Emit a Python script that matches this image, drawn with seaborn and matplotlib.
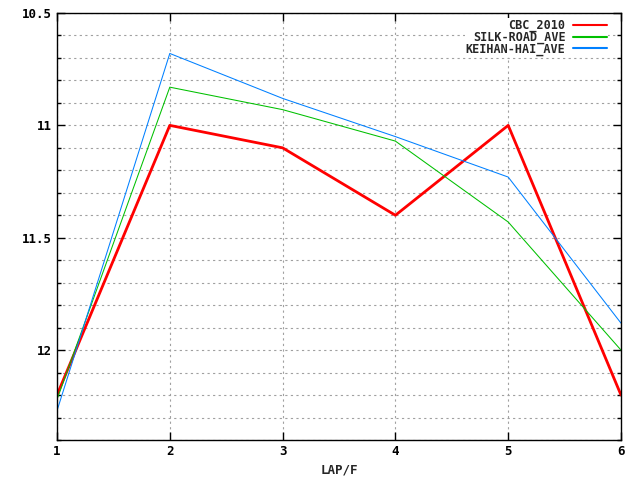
import matplotlib
matplotlib.use("Agg")
import matplotlib.pyplot as plt
import seaborn as sns
import pandas as pd
from matplotlib.ticker import MultipleLocator, FormatStrFormatter

laps = [1, 2, 3, 4, 5, 6]
cbc_2010 = [12.20, 11.00, 11.10, 11.40, 11.00, 12.20]
silk_road_ave = [12.22, 10.83, 10.93, 11.07, 11.43, 12.00]
keihan_hai_ave = [12.27, 10.68, 10.88, 11.05, 11.23, 11.88]
series_names = ["CBC_2010", "SILK-ROAD_AVE", "KEIHAN-HAI_AVE"]

df = pd.concat([
    pd.DataFrame({"LAP/F": laps, "time": cbc_2010, "series": series_names[0]}),
    pd.DataFrame({"LAP/F": laps, "time": silk_road_ave, "series": series_names[1]}),
    pd.DataFrame({"LAP/F": laps, "time": keihan_hai_ave, "series": series_names[2]}),
])

sns.set_style("white")
plt.rcParams['font.family'] = ['DejaVu Sans Mono']
plt.rcParams['font.weight'] = 'bold'

fig = plt.figure(figsize=(6.4, 4.8), dpi=100)
ax = fig.add_axes([57/640, 1-440/480, (621-57)/640, (440-13)/480])

palette = {"CBC_2010": "#ff0000", "SILK-ROAD_AVE": "#00c000", "KEIHAN-HAI_AVE": "#0080ff"}
sns.lineplot(data=df, x="LAP/F", y="time", hue="series", palette=palette,
             ax=ax, sort=False, estimator=None)
for line, lw in zip(ax.lines, [2.0, 0.75, 0.75]):
    line.set_linewidth(lw)

ax.set_xlim(1, 6)
ax.set_ylim(12.4, 10.5)
ax.xaxis.set_major_locator(MultipleLocator(1))
ax.yaxis.set_major_locator(MultipleLocator(0.5))
ax.yaxis.set_minor_locator(MultipleLocator(0.1))
ax.yaxis.set_major_formatter(FormatStrFormatter('%g'))
ax.grid(True, which='major', color='#a0a0a0', linestyle=(0, (2, 3)), linewidth=0.8)
ax.grid(True, which='minor', axis='y', color='#a0a0a0', linestyle=(0, (2, 3)), linewidth=0.8)
ax.tick_params(which='both', direction='in', top=True, right=True, left=True, bottom=True,
               labelsize=9, colors='black')
ax.tick_params(which='major', length=6, width=1)
ax.tick_params(which='minor', length=3, width=1)
for s in ax.spines.values():
    s.set_color('black')
    s.set_linewidth(1)
ax.set_xlabel("LAP/F", fontsize=9, fontweight='bold')
ax.set_ylabel("")

handles, labels = ax.get_legend_handles_labels()
leg = ax.legend(handles, labels, loc='upper right', frameon=True, markerfirst=False,
                fontsize=8.5, handlelength=2.9, labelspacing=-0.15,
                bbox_to_anchor=(1 - 13/564, 1 - 5/427), borderaxespad=0.0,
                borderpad=0.1, handletextpad=0.6, fancybox=False)
leg.get_frame().set_facecolor('white')
leg.get_frame().set_edgecolor('none')
leg.get_frame().set_alpha(1.0)
for t in leg.get_texts():
    t.set_ha('right')
    t.set_fontweight('bold')
leg._legend_box.align = "right"

fig.savefig("out.png", dpi=100)
